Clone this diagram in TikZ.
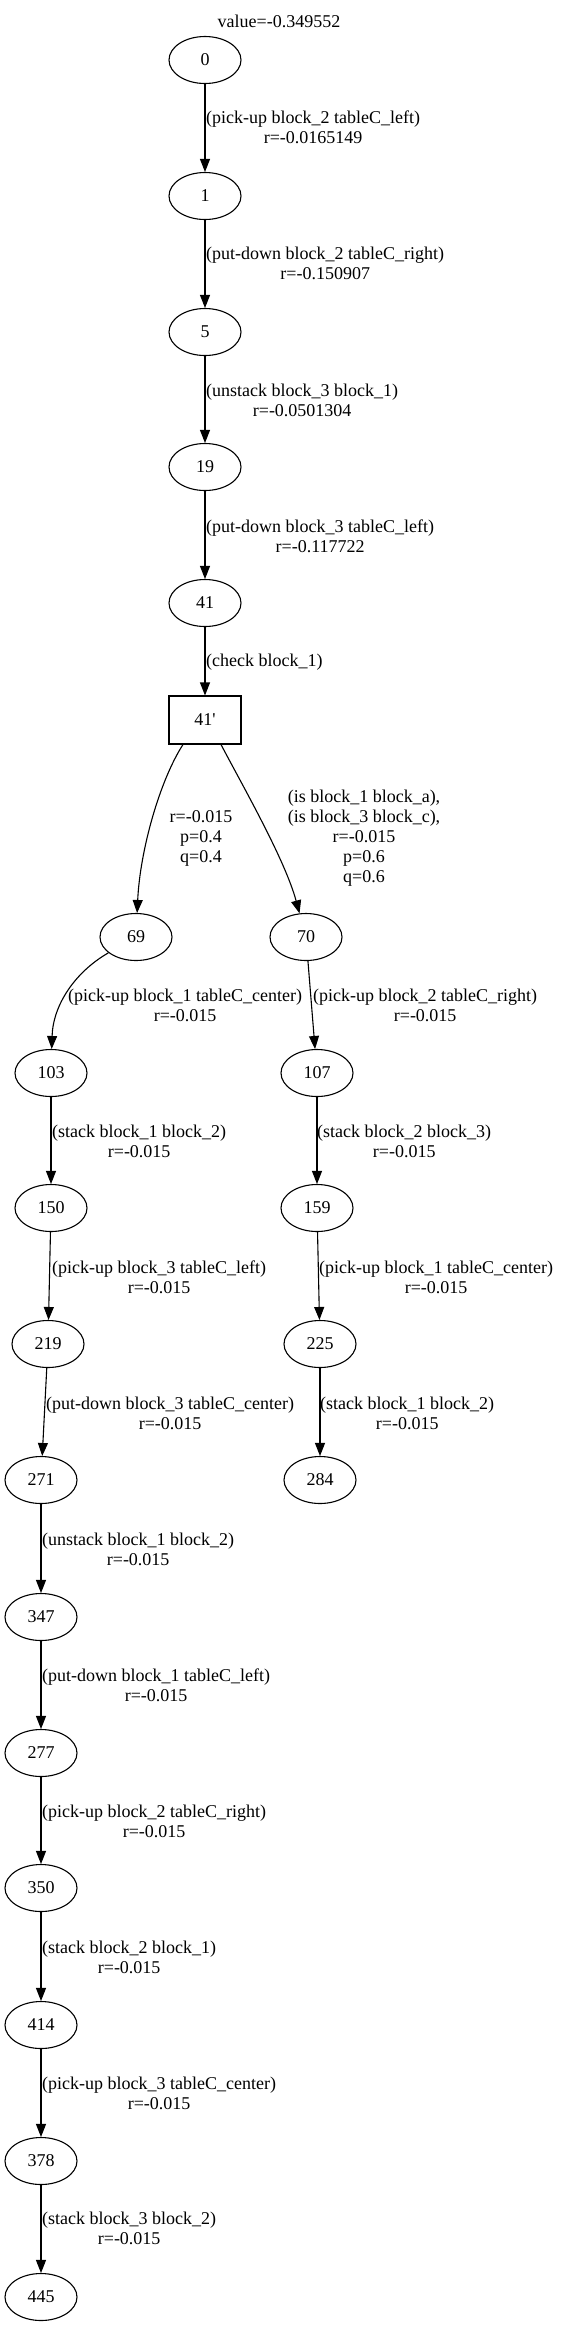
\documentclass[tikz,border=0pt]{standalone}
\usepackage{fontspec}
\setmainfont{Liberation Serif}
\usetikzlibrary{arrows.meta,shapes.geometric}
\begin{document}
\begin{tikzpicture}[x=1pt,y=-1pt,
  state/.style={draw,ellipse,line width=1.1pt,minimum width=72pt,minimum height=47pt,inner sep=0pt,font=\fontsize{18}{20}\selectfont},
  chance/.style={draw,rectangle,line width=1.1pt,minimum width=72pt,minimum height=48pt,inner sep=0pt,font=\fontsize{18}{20}\selectfont},
  lab/.style={align=center,inner sep=0pt,font=\fontsize{18}{20}\selectfont},
  edge/.style={line width=1.1pt,-{Triangle[length=13pt,width=10pt]}}]
\fill[white] (0,0) rectangle (560,2327);
\useasboundingbox (0,0) rectangle (560,2327);
\node[lab] (title) at (279,21) {value=-0.349552};
\node[state] (n0) at (205,60) {0};
\node[state] (n1) at (205,196) {1};
\node[state] (n5) at (205,332) {5};
\node[state] (n19) at (205,467) {19};
\node[state] (n41) at (205,603) {41};
\node[chance] (n41p) at (205,720) {41\textquotesingle};
\node[state] (n69) at (136,937) {69};
\node[state] (n70) at (306,937) {70};
\node[state] (n103) at (51,1073) {103};
\node[state] (n107) at (317,1073) {107};
\node[state] (n150) at (51,1208) {150};
\node[state] (n159) at (317,1208) {159};
\node[state] (n219) at (48,1344) {219};
\node[state] (n225) at (320,1344) {225};
\node[state] (n271) at (41,1480) {271};
\node[state] (n284) at (320,1480) {284};
\node[state] (n347) at (41,1617) {347};
\node[state] (n277) at (41,1753) {277};
\node[state] (n350) at (41,1888) {350};
\node[state] (n414) at (41,2025) {414};
\node[state] (n378) at (41,2161) {378};
\node[state] (n445) at (41,2297) {445};

\draw[edge] (n0) -- (n1);
\draw[edge] (n1) -- (n5);
\draw[edge] (n5) -- (n19);
\draw[edge] (n19) -- (n41);
\draw[edge] (n41) -- (n41p);
\draw[edge] ([xshift=-22pt]n41p.south) .. controls (160,780) and (140,850) .. (n69);
\draw[edge] ([xshift=16pt]n41p.south) .. controls (245,790) and (285,860) .. (n70);
\draw[edge] (n69) .. controls (75,972) and (53,1005) .. (n103);
\draw[edge] (n70) -- (n107);
\draw[edge] (n103) -- (n150);
\draw[edge] (n107) -- (n159);
\draw[edge] (n150) -- (n219);
\draw[edge] (n159) -- (n225);
\draw[edge] (n219) -- (n271);
\draw[edge] (n225) -- (n284);
\draw[edge] (n271) -- (n347);
\draw[edge] (n347) -- (n277);
\draw[edge] (n277) -- (n350);
\draw[edge] (n350) -- (n414);
\draw[edge] (n414) -- (n378);
\draw[edge] (n378) -- (n445);

\node[lab,anchor=west] (l1) at (206,127) {(pick-up block\_2 tableC\_left)\\r=-0.0165149};
\node[lab,anchor=west] (l2) at (206,263) {(put-down block\_2 tableC\_right)\\r=-0.150907};
\node[lab,anchor=west] (l3) at (206,400) {(unstack block\_3 block\_1)\\r=-0.0501304};
\node[lab,anchor=west] (l4) at (206,536) {(put-down block\_3 tableC\_left)\\r=-0.117722};
\node[lab,anchor=west] (l5) at (206,662) {(check block\_1)};
\node[lab] (l69) at (201,838) {r=-0.015\\p=0.4\\q=0.4};
\node[lab] (l70) at (364,838) {(is block\_1 block\_a),\\(is block\_3 block\_c),\\r=-0.015\\p=0.6\\q=0.6};
\node[lab,anchor=west] (l103) at (68,1005) {(pick-up block\_1 tableC\_center)\\r=-0.015};
\node[lab,anchor=west] (l107) at (313,1005) {(pick-up block\_2 tableC\_right)\\r=-0.015};
\node[lab,anchor=west] (l150) at (52,1141) {(stack block\_1 block\_2)\\r=-0.015};
\node[lab,anchor=west] (l159) at (317,1141) {(stack block\_2 block\_3)\\r=-0.015};
\node[lab,anchor=west] (l219) at (52,1277) {(pick-up block\_3 tableC\_left)\\r=-0.015};
\node[lab,anchor=west] (l225) at (319,1277) {(pick-up block\_1 tableC\_center)\\r=-0.015};
\node[lab,anchor=west] (l271) at (46,1413) {(put-down block\_3 tableC\_center)\\r=-0.015};
\node[lab,anchor=west] (l284) at (320,1413) {(stack block\_1 block\_2)\\r=-0.015};
\node[lab,anchor=west] (l347) at (42,1549) {(unstack block\_1 block\_2)\\r=-0.015};
\node[lab,anchor=west] (l277) at (42,1685) {(put-down block\_1 tableC\_left)\\r=-0.015};
\node[lab,anchor=west] (l350) at (42,1821) {(pick-up block\_2 tableC\_right)\\r=-0.015};
\node[lab,anchor=west] (l414) at (42,1957) {(stack block\_2 block\_1)\\r=-0.015};
\node[lab,anchor=west] (l378) at (42,2093) {(pick-up block\_3 tableC\_center)\\r=-0.015};
\node[lab,anchor=west] (l445) at (42,2228) {(stack block\_3 block\_2)\\r=-0.015};
\end{tikzpicture}
\end{document}
